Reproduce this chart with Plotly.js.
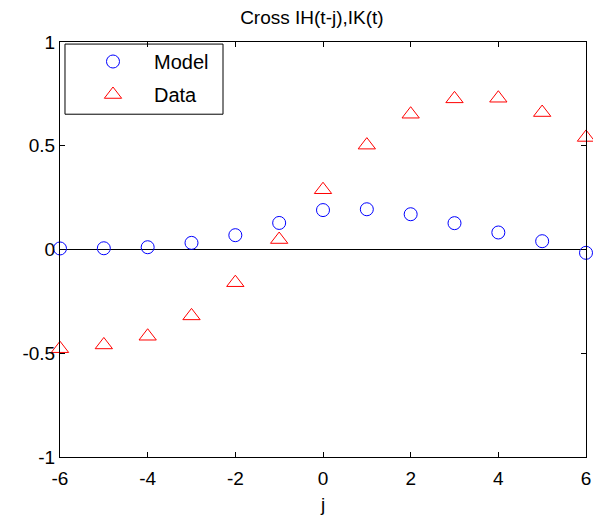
<!DOCTYPE html>
<html>
<head>
<meta charset="utf-8">
<script src="https://cdn.plot.ly/plotly-3.0.1.min.js"></script>
<style>html,body{margin:0;padding:0;background:#fff;}#chart{width:593px;height:515px;}</style>
</head>
<body>
<div id="chart"></div>
<script>
const lags = [-6, -5, -4, -3, -2, -1, 0, 1, 2, 3, 4, 5, 6];
const modelValues = [0.005, 0.006, 0.011, 0.032, 0.069, 0.128, 0.19, 0.194, 0.17, 0.127, 0.082, 0.04, -0.016];
const dataValues = [-0.478, -0.46, -0.418, -0.32, -0.16, 0.048, 0.288, 0.503, 0.652, 0.726, 0.729, 0.66, 0.54];
const xTicks = [-6, -4, -2, 0, 2, 4, 6];
const yTicks = [-1, -0.5, 0, 0.5, 1];
const yTickText = ['-1', '-0.5', '0', '0.5', '1'];

const font = 'Liberation Sans, Arial, sans-serif';

const traces = [
  {x: lags, y: modelValues, name: 'Model', type: 'scatter', mode: 'markers', cliponaxis: false, legendgroup: 'm',
   marker: {symbol: 'circle-open', size: 13, color: '#0000ff', line: {width: 1, color: '#0000ff'}}},
  {x: lags, y: dataValues, name: 'Data', type: 'scatter', mode: 'markers', cliponaxis: false, legendgroup: 'd',
   marker: {symbol: 'triangle-up-open', size: 15, color: '#ff0000', line: {width: 1, color: '#ff0000'}}}
];

const layout = {
  width: 593, height: 515,
  margin: {l: 60, r: 7, t: 42, b: 58},
  paper_bgcolor: '#fff', plot_bgcolor: '#fff',
  font: {family: font, size: 19, color: '#000'},
  title: {text: 'Cross IH(t-j),IK(t)', font: {family: font, size: 19, color: '#000'}, x: 0.526, xanchor: 'center', y: 0.966, yanchor: 'middle'},
  xaxis: {range: [-6, 6], tickvals: xTicks, ticktext: xTicks.map(String), ticks: 'inside', ticklen: 5, tickcolor: '#000',
          showline: true, linecolor: '#000', linewidth: 1, mirror: 'ticks', showgrid: false, zeroline: false,
          ticklabelstandoff: 4,
          title: {text: 'j', font: {family: font, size: 19}, standoff: 10}, tickfont: {size: 19}},
  yaxis: {range: [-1, 1], tickvals: yTicks, ticktext: yTickText, ticks: 'inside', ticklen: 5, tickcolor: '#000',
          showline: true, linecolor: '#000', linewidth: 1, mirror: 'ticks', showgrid: false,
          zeroline: true, zerolinecolor: '#000', zerolinewidth: 1, tickfont: {size: 19}},
  showlegend: true,
  legend: {x: 0.0228, y: 1.0, xanchor: 'left', yanchor: 'top', bgcolor: 'rgba(0,0,0,0)', borderwidth: 0,
           font: {family: font, size: 20}, itemwidth: 72, traceorder: 'grouped', tracegroupgap: 4},
  shapes: [
    {type: 'rect', xref: 'paper', yref: 'paper', x0: 0.0095, x1: 0.3099, y0: 0.826, y1: 0.995,
     line: {color: '#000', width: 1}, fillcolor: 'rgba(0,0,0,0)'}
  ]
};

Plotly.newPlot('chart', traces, layout, {displayModeBar: false, staticPlot: true});
</script>
</body>
</html>
